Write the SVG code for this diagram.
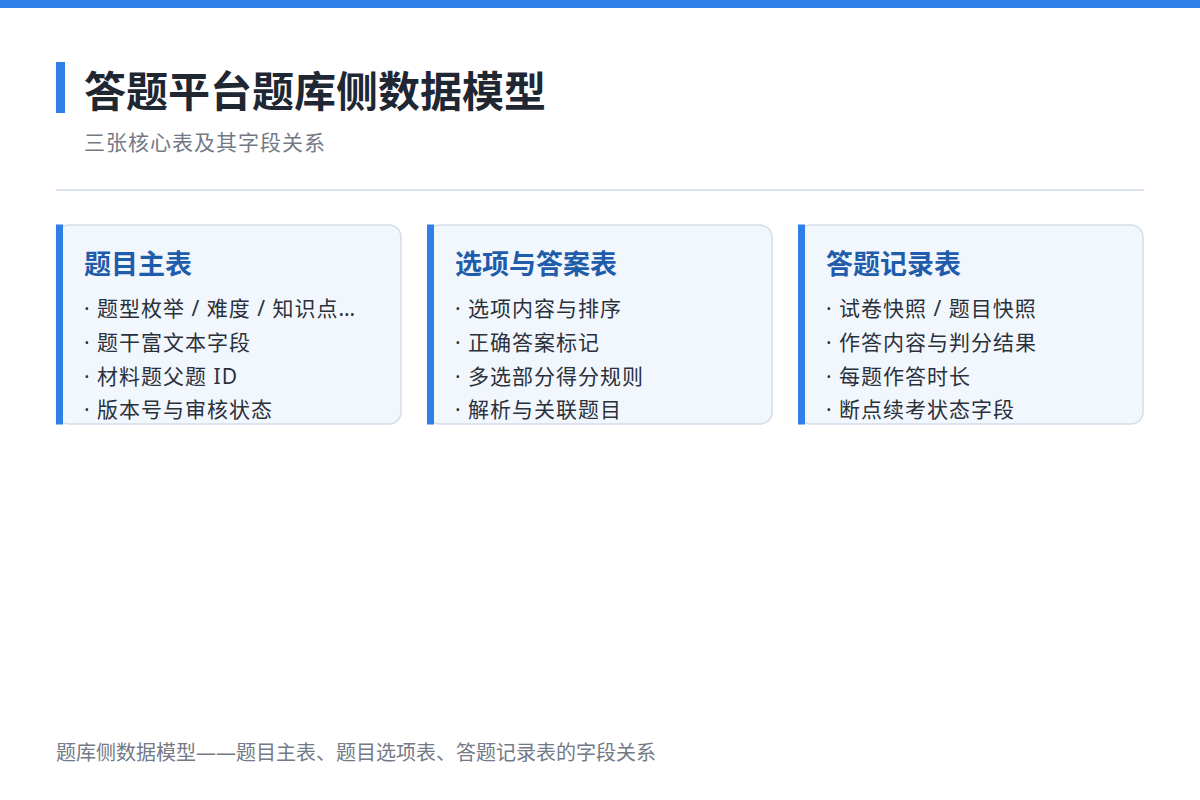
<svg xmlns="http://www.w3.org/2000/svg" width="1200" height="800" viewBox="0 0 1200 800">
<style>
.title{font-family:"Noto Sans","Noto Sans CJK SC",sans-serif;font-weight:700;font-size:42px;fill:#1f2733}
.sub{font-family:"Noto Sans","Noto Sans CJK SC",sans-serif;font-size:21px;letter-spacing:1px;fill:#737a86}
.card{fill:#f2f7fe;stroke:#d3dde9;stroke-width:1.5}
.bar{fill:#2f7fe6}
.ct{font-family:"Noto Sans","Noto Sans CJK SC",sans-serif;font-weight:700;font-size:27px;fill:#1f5cab}
.it{font-family:"Noto Sans","Noto Sans CJK SC",sans-serif;font-size:21px;letter-spacing:1px;fill:#2b313b}
.foot{font-family:"Noto Sans","Noto Sans CJK SC",sans-serif;font-size:20px;fill:#737a86}
</style>
<rect x="0" y="0" width="1200" height="800" fill="#ffffff"/>
<rect x="0" y="0" width="1200" height="8" class="bar"/>
<g id="header">
<rect x="56" y="62" width="9" height="51" class="bar"/>
<text x="84" y="107" class="title">答题平台题库侧数据模型</text>
<text x="84" y="150" class="sub">三张核心表及其字段关系</text>
<rect x="56" y="189" width="1088" height="2" fill="#d9e4f0"/>
</g>
<g id="connectors"></g>
<g id="card1">
<rect x="57" y="225" width="344" height="199" rx="12" class="card"/>
<rect x="56" y="224.5" width="7" height="200" class="bar"/>
<text x="84" y="274" class="ct">题目主表</text>
<text x="84" y="316" class="it">· 题型枚举 / 难度 / 知识点…</text>
<text x="84" y="350" class="it">· 题干富文本字段</text>
<text x="84" y="384" class="it">· 材料题父题 ID</text>
<text x="84" y="417" class="it">· 版本号与审核状态</text>
</g>
<g id="card2">
<rect x="428" y="225" width="344" height="199" rx="12" class="card"/>
<rect x="427" y="224.5" width="7" height="200" class="bar"/>
<text x="455" y="274" class="ct">选项与答案表</text>
<text x="455" y="316" class="it">· 选项内容与排序</text>
<text x="455" y="350" class="it">· 正确答案标记</text>
<text x="455" y="384" class="it">· 多选部分得分规则</text>
<text x="455" y="417" class="it">· 解析与关联题目</text>
</g>
<g id="card3">
<rect x="799" y="225" width="344" height="199" rx="12" class="card"/>
<rect x="798" y="224.5" width="7" height="200" class="bar"/>
<text x="826" y="274" class="ct">答题记录表</text>
<text x="826" y="316" class="it">· 试卷快照 / 题目快照</text>
<text x="826" y="350" class="it">· 作答内容与判分结果</text>
<text x="826" y="384" class="it">· 每题作答时长</text>
<text x="826" y="417" class="it">· 断点续考状态字段</text>
</g>
<text x="56" y="760" class="foot">题库侧数据模型——题目主表、题目选项表、答题记录表的字段关系</text>
</svg>
